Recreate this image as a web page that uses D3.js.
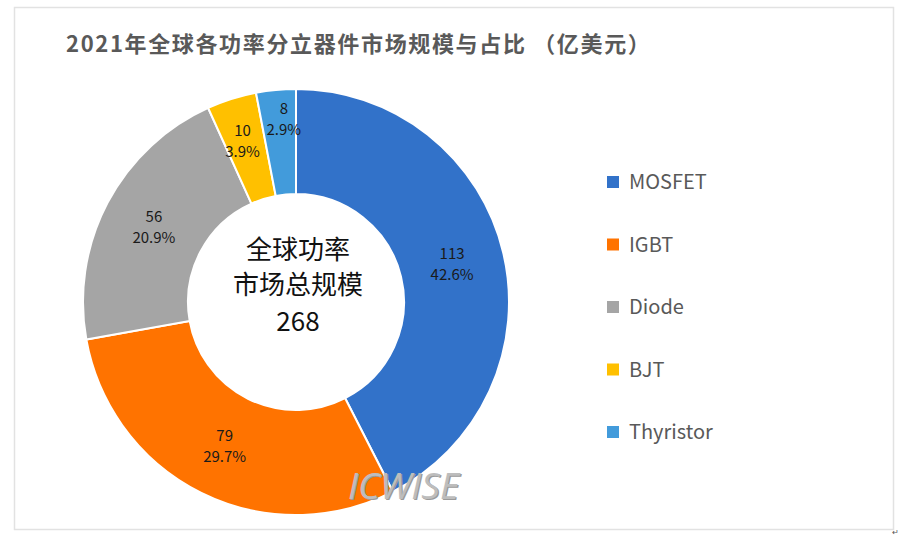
<!DOCTYPE html>
<html>
<head>
<meta charset="utf-8">
<script src="https://cdn.jsdelivr.net/npm/d3@7"></script>
<style>
  html, body { margin: 0; padding: 0; background: #fff; }
  text { font-family: "Noto Sans CJK SC", "Noto Sans", sans-serif; }
</style>
</head>
<body>
<div id="chart"></div>
<script>
// Chart data
var categories = ["MOSFET", "IGBT", "Diode", "BJT", "Thyristor"];
var values = [113, 79, 56, 10, 8];
var percentLabels = ["42.6%", "29.7%", "20.9%", "3.9%", "2.9%"];
var colors = ["#3272c9", "#ff7300", "#a5a5a5", "#ffc000", "#429bdb"];
var titleText = "2021年全球各功率分立器件市场规模与占比 （亿美元）";
var centerLines = ["全球功率", "市场总规模", "268"];

var svgWidth = 900;
var svgHeight = 537;
var cx = 296;
var cy = 302;
var outerRadius = 213;
var innerRadius = 108;

var svg = d3.select("#chart")
  .append("svg")
  .attr("width", svgWidth)
  .attr("height", svgHeight)
  .style("display", "block");

// Chart frame
svg.append("rect")
  .attr("x", 14.5)
  .attr("y", 7.5)
  .attr("width", 879)
  .attr("height", 522)
  .attr("fill", "#fff")
  .attr("stroke", "#e2e2e2")
  .attr("stroke-width", 1.5);

svg.append("text")
  .attr("x", 66)
  .attr("y", 52)
  .attr("font-size", 22)
  .attr("font-weight", 700)
  .attr("letter-spacing", 1.65)
  .attr("fill", "#595959")
  .text(titleText);

// Donut
var pie = d3.pie().sort(null).value(function(d) { return d.value; });
var arc = d3.arc().innerRadius(innerRadius).outerRadius(outerRadius);

var slices = pie(categories.map(function(name, i) {
  return { name: name, value: values[i], percent: percentLabels[i] };
}));

var color = d3.scaleOrdinal().domain(categories).range(colors);

var donut = svg.append("g")
  .attr("transform", "translate(" + cx + "," + cy + ")");

donut.selectAll("path")
  .data(slices)
  .enter()
  .append("path")
  .attr("d", arc)
  .attr("fill", function(d) { return color(d.data.name); })
  .attr("stroke", "#fff")
  .attr("stroke-width", 2);

// the two narrow slices have their labels pushed up towards the outer edge
var labelShift = { BJT: [-5, -8], Thyristor: [3, -23] };

var labels = donut.selectAll("text.slice-label")
  .data(slices)
  .enter()
  .append("text")
  .attr("class", "slice-label")
  .attr("text-anchor", "middle")
  .attr("font-size", 15)
  .attr("fill", "#1a1a1a")
  .attr("transform", function(d) {
    var c = arc.centroid(d);
    var s = labelShift[d.data.name] || [0, 0];
    return "translate(" + (c[0] + s[0]) + "," + (c[1] + s[1]) + ")";
  });

labels.append("tspan")
  .attr("x", 0)
  .attr("y", -5)
  .text(function(d) { return d.data.value; });

labels.append("tspan")
  .attr("x", 0)
  .attr("y", 16)
  .text(function(d) { return d.data.percent; });

// Center text
svg.selectAll("text.center-label")
  .data(centerLines)
  .enter()
  .append("text")
  .attr("class", "center-label")
  .attr("x", cx + 2)
  .attr("y", function(d, i) { return [259, 294, 331][i]; })
  .attr("text-anchor", "middle")
  .attr("font-size", 26)
  .attr("fill", "#111")
  .text(function(d) { return d; });

// Legend
var legendY = d3.scalePoint().domain(categories).range([182, 432]);

var legend = svg.selectAll("g.legend")
  .data(categories)
  .enter()
  .append("g")
  .attr("class", "legend")
  .attr("transform", function(d) { return "translate(607," + legendY(d) + ")"; });

legend.append("rect")
  .attr("x", 0)
  .attr("y", -6)
  .attr("width", 12)
  .attr("height", 12)
  .attr("fill", function(d) { return color(d); });

legend.append("text")
  .attr("x", 22)
  .attr("y", 7)
  .attr("font-size", 20)
  .attr("fill", "#595959")
  .text(function(d) { return d; });

// Watermark, with a soft offset copy underneath as its shadow
[{ dx: 1.2, fill: "#9a9a9a" }, { dx: 0, fill: "#bdbdbd" }].forEach(function(layer) {
  svg.append("text")
    .attr("x", 348 + layer.dx)
    .attr("y", 499 + layer.dx)
    .attr("font-size", 37)
    .attr("font-style", "italic")
    .attr("fill", layer.fill)
    .style("font-family", "'Open Sans', sans-serif")
    .text("ICWISE");
});

svg.append("text")
  .attr("x", 892)
  .attr("y", 535)
  .attr("font-size", 8)
  .attr("fill", "#555")
  .text("↵");
</script>
</body>
</html>
